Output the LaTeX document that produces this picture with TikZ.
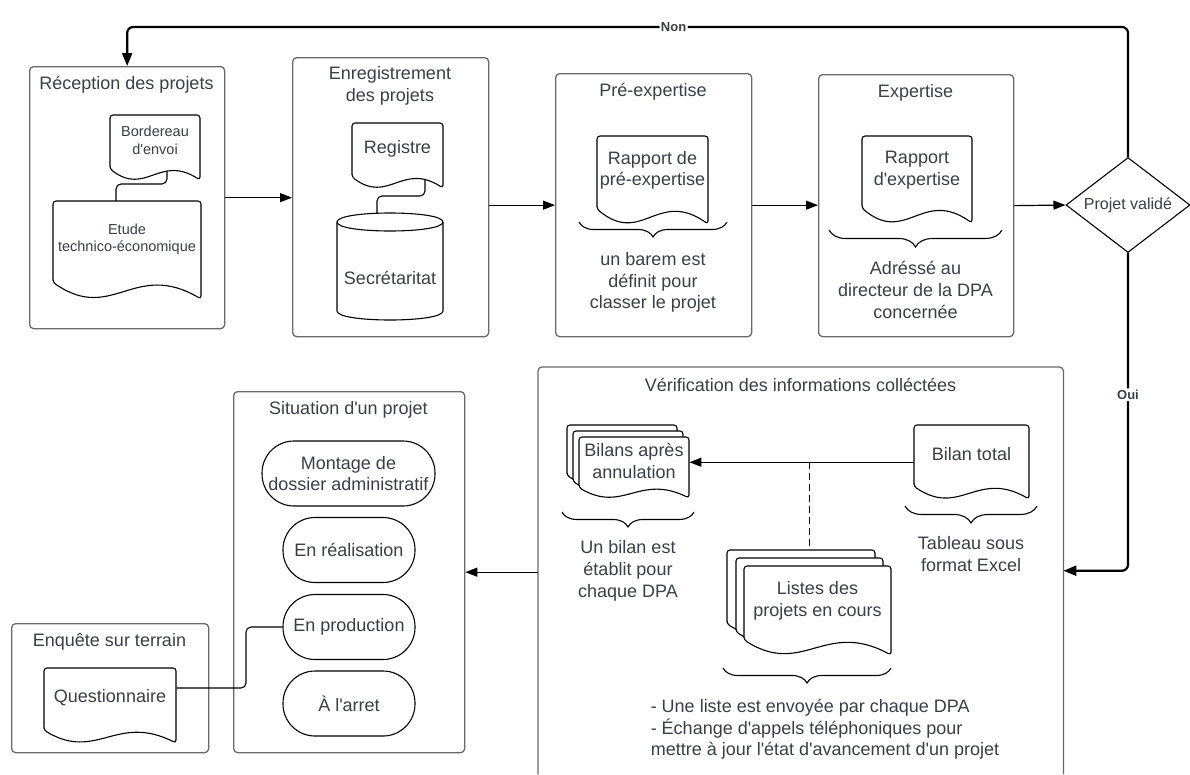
\documentclass[tikz,border=0pt]{standalone}
\usepackage{fontspec}
\setmainfont{Liberation Sans}[Ligatures=TeXOff]
\usetikzlibrary{arrows.meta,decorations.pathreplacing,shapes.geometric}

\definecolor{ink}{RGB}{58,62,70}
\definecolor{frame}{RGB}{105,105,105}

\tikzset{
  container/.style={draw=frame, line width=1.3pt, rounded corners=4pt, anchor=north west, inner sep=0pt},
  head/.style={text=ink, font=\fontsize{18pt}{21.6pt}\selectfont, align=center, inner sep=0pt},
  body/.style={text=ink, font=\fontsize{18pt}{21.7pt}\selectfont, align=center, inner sep=0pt},
  note/.style={text=ink, font=\fontsize{14.5pt}{17.5pt}\selectfont, align=center, inner sep=0pt},
  shapeline/.style={draw=black, line width=1.1pt, fill=white, rounded corners=3pt},
  flow/.style={draw=black, line width=1.2pt, -{Triangle[length=12pt,width=9pt]}},
  link/.style={draw=black, line width=1.1pt, rounded corners=5pt},
  decisionflow/.style={draw=black, line width=2.2pt, rounded corners=6pt, -{Triangle[length=13pt,width=10pt]}},
  branchlabel/.style={text=ink, font=\fontsize{13pt}{15pt}\selectfont\bfseries, fill=white, inner sep=1.5pt},
  curly/.style={draw=black, line width=1.1pt, decorate, decoration={brace, mirror, amplitude=#1}},
  stadium/.style={draw=black, line width=1.1pt, rounded corners=32pt, inner sep=0pt, minimum height=65pt,
                  text=ink, font=\fontsize{18pt}{21.7pt}\selectfont, align=center},
}

% document sheet with a wavy lower edge: name, x, y, width, height, text style, text
\newcommand{\docsheet}[7]{%
  \node[inner sep=0pt, minimum width=#4pt, minimum height=#5pt, anchor=north west] (#1) at (#2,#3) {};
  \draw[shapeline] (#2,{#3+0.83*#5}) -- (#2,#3) -- ({#2+#4},#3) -- ({#2+#4},{#3+#5})
    .. controls ({#2+0.55*#4},{#3+0.6*#5}) and ({#2+0.4*#4},{#3+1.25*#5}) .. (#2,{#3+0.83*#5}) -- cycle;
  \node[#6] (#1-txt) at ({#2+0.5*#4},{#3+0.39*#5}) {#7};
}

\begin{document}
\begin{tikzpicture}[x=1pt, y=-1pt]
\useasboundingbox (0,0) rectangle (1190,774);

% ---------- swimlane containers ----------
\node[container, minimum width=195pt, minimum height=262pt] (recep) at (29,66) {};
\node[head] (recep-title) at (126.5,85) {Réception des projets};

\node[container, minimum width=196pt, minimum height=279pt] (enreg) at (292,57) {};
\node[head] (enreg-title) at (390,86) {Enregistrement\\des projets};

\node[container, minimum width=196pt, minimum height=263pt] (preexp) at (555,73) {};
\node[head] (preexp-title) at (653,92) {Pré-expertise};

\node[container, minimum width=195pt, minimum height=262pt] (expert) at (818,74) {};
\node[head] (expert-title) at (915.5,93) {Expertise};

\node[inner sep=0pt, anchor=north west, minimum width=525pt, minimum height=407pt] (verif) at (538,367) {};
\draw[draw=frame, line width=1.3pt, rounded corners=4pt]
  (verif.south west) -- (verif.north west) -- (verif.north east) -- (verif.south east);
\node[head] (verif-title) at (800.5,385) {Vérification des informations colléctées};

\node[container, minimum width=231pt, minimum height=361pt] (situ) at (233,391) {};
\node[head] (situ-title) at (348.5,410) {Situation d'un projet};

\node[container, minimum width=197pt, minimum height=129pt] (enq) at (11,623) {};
\node[head] (enq-title) at (109.5,642) {Enquête sur terrain};

% ---------- réception ----------
\coordinate (bordout) at (167,171);
\coordinate (etudein) at (116,201);
\draw[link] (bordout) -- ++(0,13) -| (etudein);
\docsheet{bord}{110}{115}{90}{65}{note}{Bordereau\\d'envoi}
\docsheet{etude}{53}{201}{148}{98}{note}{Etude\\technico-économique}

% ---------- enregistrement ----------
\coordinate (regout) at (425,180);
\coordinate (secrin) at (377,213.5);
\draw[link] (regout) -- ++(0,16) -| (secrin);
\docsheet{regis}{352}{123}{91}{65}{body}{Registre}
\draw[shapeline, rounded corners=0pt] (337,222) -- (337,311) .. controls (337,323) and (443,323) .. (443,311)
  -- (443,222) .. controls (443,210) and (337,210) .. (337,222) -- cycle;
\draw[draw=black, line width=1.1pt] (337,222) .. controls (337,234) and (443,234) .. (443,222);
\node[body] (secr) at (390,278) {Secrétaritat};

% ---------- pré-expertise ----------
\docsheet{rpre}{597}{136}{111}{88}{body}{Rapport de\\pré-expertise}
\draw[curly=15pt] (579,222) -- (727,222);
\node[body] (rpre-note) at (653,282.5) {un barem est\\définit pour\\classer le projet};

% ---------- expertise ----------
\docsheet{rexp}{862}{136}{110}{87}{body}{Rapport\\d'expertise}
\draw[curly=17pt] (829,230) -- (1002,230);
\node[body] (rexp-note) at (915.5,290) {Adréssé au\\directeur de la DPA\\concernée};

% ---------- décision ----------
\node[diamond, draw=black, line width=1.1pt, aspect=1.3, minimum width=124pt, minimum height=95pt, inner sep=0pt] (valid) at (1128,205) {};
\node[text=ink, font=\fontsize{16pt}{19pt}\selectfont, inner sep=0pt] (valid-txt) at (valid) {Projet validé};

% ---------- vérification ----------
\docsheet{bil3}{567}{425}{110}{61}{body}{}
\docsheet{bil2}{573}{431}{110}{61}{body}{}
\docsheet{bilans}{579}{437}{110}{61}{body}{Bilans après\\annulation}
\draw[curly=15pt] (562,512) -- (694,512);
\node[body] (bilans-note) at (628,571) {Un bilan est\\établit pour\\chaque DPA};

\docsheet{btot}{914}{425}{115}{74}{body}{Bilan total}
\draw[curly=17pt] (905,506) -- (1037,506);
\node[body] (btot-note) at (971,554) {Tableau sous\\format Excel};

\docsheet{lst3}{727}{550}{148}{89}{body}{}
\docsheet{lst2}{736}{558}{147}{89}{body}{}
\docsheet{listes}{744}{566}{147}{89}{body}{Listes des\\projets en cours}
\draw[curly=15pt] (723,668) -- (891,668);
\node[body, align=left] (listes-note) at (825,729.5) {- Une liste est envoyée par chaque DPA\\- Échange d'appels téléphoniques pour\\mettre à jour l'état d'avancement d'un projet};

\draw[flow] (btot.west) -- (bilans.east |- btot.west);
\draw[draw=black, line width=1.1pt, dash pattern=on 7pt off 4pt] (lst2.north |- btot.west) -- (lst2.north |- lst3.north);

% ---------- situation ----------
\node[stadium, minimum width=173pt] (montage) at (348.5,473.5) {Montage de\\dossier administratif};
\node[stadium, minimum width=132pt] (realis) at (349,550) {En réalisation};
\node[stadium, minimum width=132pt] (prod) at (349,627) {En production};
\node[stadium, minimum width=132pt] (arret) at (349,703.5) {À l'arret};

% ---------- enquête ----------
\docsheet{quest}{44}{668}{132}{75}{body}{Questionnaire}
\coordinate (qbend) at (246,688);
\draw[link] ([yshift=-20pt]quest.north east) -- (qbend) |- (prod.west);

% ---------- flow between stages ----------
\draw[flow] (recep.east) -- (enreg.west |- recep.east);
\draw[flow] (enreg.east |- preexp.west) -- (preexp.west);
\draw[flow] (preexp.east) -- (expert.west |- preexp.east);
\draw[flow] (expert.east) -- (valid.west);
\draw[flow] (verif.west |- situ.east) -- (situ.east);

\coordinate (topline) at (0,27);
\draw[decisionflow] (valid.north) -- (valid.north |- topline)
  -- node[branchlabel, pos=0.454] {Non} (recep.north |- topline) -- (recep.north);
\draw[decisionflow] (valid.south) |- node[branchlabel, pos=0.223] {Oui} (verif.east);
\end{tikzpicture}
\end{document}
